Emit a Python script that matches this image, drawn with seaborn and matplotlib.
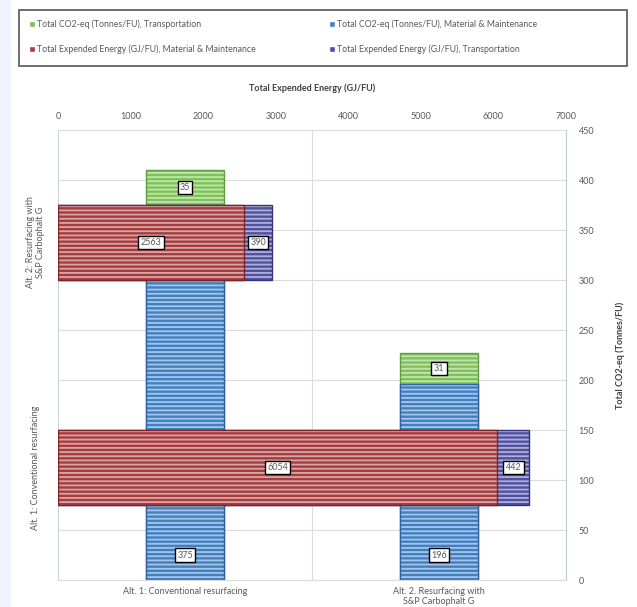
import matplotlib
matplotlib.use("Agg")
import matplotlib.pyplot as plt
from matplotlib.patches import Patch, Rectangle
import seaborn as sns

# --- data -------------------------------------------------------------
co2_categories = ["Alt. 1: Conventional resurfacing",
                  "Alt. 2. Resurfacing with\nS&P Carbophalt G"]
co2_material = [375, 196]        # Tonnes/FU, material & maintenance
co2_transport = [35, 31]         # Tonnes/FU, transportation

energy_categories = ["Alt. 2: Resurfacing with\nS&P Carbophalt G",
                     "Alt. 1: Conventional resurfacing"]
energy_material = [2563, 6054]   # GJ/FU, material & maintenance
energy_transport = [390, 442]    # GJ/FU, transportation

energy_ticks = [0, 1000, 2000, 3000, 4000, 5000, 6000, 7000]
co2_ticks = [0, 50, 100, 150, 200, 250, 300, 350, 400, 450]

# --- style ------------------------------------------------------------
sns.set_style("white")
plt.rcParams["font.family"] = ["Lato", "DejaVu Sans"]
plt.rcParams["hatch.linewidth"] = 1.3

GREEN, GREEN_E = "#7cc256", "#5e9e3e"
BLUE, BLUE_E = "#3f7fc4", "#2f62a0"
RED, RED_E = "#a63c3e", "#7e2427"
PURPLE, PURPLE_E = "#4f4fa3", "#34347a"
TXT = "#595959"
GRID = "#dcdcdc"
HATCH_EC = (1, 1, 1, 0.55)
W, H = 637, 607

fig = plt.figure(figsize=(W / 100, H / 100), dpi=100)
fig.patch.set_facecolor("white")
fig.add_artist(Rectangle((0, 0), 11 / W, 1, transform=fig.transFigure,
                         facecolor="#eef4fb", edgecolor="none", zorder=-5))

pos = [58 / W, 1 - 580 / H, (566 - 58) / W, (580 - 130) / H]
ax_v = fig.add_axes(pos)                     # CO2 columns (bottom / right)
ax_h = fig.add_axes(pos, frameon=False)      # energy bars (top / left)
ax_h.patch.set_alpha(0)

# --- CO2 stacked columns ---------------------------------------------
co2_total = [m + t for m, t in zip(co2_material, co2_transport)]
bw_v = 0.31
sns.barplot(x=co2_categories, y=co2_total, ax=ax_v, color=GREEN, saturation=1,
            width=bw_v, errorbar=None, hatch="----", edgecolor=HATCH_EC, linewidth=0)
sns.barplot(x=co2_categories, y=co2_total, ax=ax_v, color=GREEN_E, fill=False,
            width=bw_v, errorbar=None, linewidth=1)
sns.barplot(x=co2_categories, y=co2_material, ax=ax_v, color=BLUE, saturation=1,
            width=bw_v, errorbar=None, hatch="----", edgecolor=HATCH_EC, linewidth=0)
sns.barplot(x=co2_categories, y=co2_material, ax=ax_v, color=BLUE_E, fill=False,
            width=bw_v, errorbar=None, linewidth=1)

ax_v.set_ylim(0, 450)
ax_v.set_xlim(-0.5, 1.5)
ax_v.set_yticks(co2_ticks)
ax_v.yaxis.tick_right()
ax_v.yaxis.set_label_position("right")
ax_v.set_ylabel("Total CO2-eq (Tonnes/FU)", fontsize=6.5, color="#404040",
                fontweight="bold", labelpad=15)
ax_v.set_xlabel("")
ax_v.tick_params(axis="y", length=0, labelsize=6.5, labelcolor=TXT, pad=9)
ax_v.tick_params(axis="x", length=0, labelsize=6.5, labelcolor=TXT, pad=5)
ax_v.grid(axis="y", color=GRID, linewidth=0.8)
ax_v.axvline(0.5, color=GRID, linewidth=0.8, zorder=0)
ax_v.set_axisbelow(True)
for side in ["top", "left"]:
    ax_v.spines[side].set_visible(False)
ax_v.spines["right"].set_color("#c0c8d0")
ax_v.spines["bottom"].set_color(GRID)
ax_v.spines["bottom"].set_linewidth(0.8)

box = dict(boxstyle="square,pad=0.25", facecolor="white", edgecolor="black", linewidth=1)
for i, (m, t) in enumerate(zip(co2_material, co2_transport)):
    ax_v.text(i, m + t / 2, f"{t}", ha="center", va="center", fontsize=6.5,
              color=TXT, bbox=box, zorder=10)
    ax_v.annotate(f"{m}", xy=(i, 0), xytext=(0, 18), textcoords="offset points",
                  ha="center", va="center", fontsize=6.5, color=TXT, bbox=box, zorder=10)

# --- energy stacked bars ---------------------------------------------
energy_total = [m + t for m, t in zip(energy_material, energy_transport)]
bw_h = 0.333
sns.barplot(x=energy_total, y=energy_categories, orient="h", ax=ax_h, color=PURPLE,
            saturation=1, width=bw_h, errorbar=None, hatch="----",
            edgecolor=HATCH_EC, linewidth=0)
sns.barplot(x=energy_total, y=energy_categories, orient="h", ax=ax_h, color=PURPLE_E,
            fill=False, width=bw_h, errorbar=None, linewidth=1)
sns.barplot(x=energy_material, y=energy_categories, orient="h", ax=ax_h, color=RED,
            saturation=1, width=bw_h, errorbar=None, hatch="----",
            edgecolor=HATCH_EC, linewidth=0)
sns.barplot(x=energy_material, y=energy_categories, orient="h", ax=ax_h, color=RED_E,
            fill=False, width=bw_h, errorbar=None, linewidth=1)

ax_h.set_xlim(0, 7000)
ax_h.set_ylim(1.5, -0.5)
ax_h.set_xticks(energy_ticks)
ax_h.xaxis.tick_top()
ax_h.xaxis.set_label_position("top")
ax_h.set_xlabel("Total Expended Energy (GJ/FU)", fontsize=6.5, color="#404040",
                fontweight="bold", labelpad=15)
ax_h.set_ylabel("")
ax_h.tick_params(axis="x", length=0, labelsize=6.5, labelcolor=TXT, pad=6.5)
ax_h.tick_params(axis="y", length=0, labelsize=6.5, labelcolor=TXT, pad=16)
for lab in ax_h.get_yticklabels():
    lab.set_rotation(90)
    lab.set_va("center")
    lab.set_ha("center")
    lab.set_multialignment("center")
ax_h.axvline(0, color="#c0c8d0", linewidth=1.2, zorder=0)

for i, (m, t) in enumerate(zip(energy_material, energy_transport)):
    ax_h.text(m / 2, i, f"{m}", ha="center", va="center", fontsize=6.5,
              color=TXT, bbox=box, zorder=10)
    ax_h.text(m + t / 2, i, f"{t}", ha="center", va="center", fontsize=6.5,
              color=TXT, bbox=box, zorder=10)

# --- legend: two columns inside one framed box ------------------------
fig.add_artist(Rectangle((19 / W, 1 - 66 / H), 608 / W, 56 / H, transform=fig.transFigure,
                         facecolor="white", edgecolor="#555555", linewidth=1.2, zorder=3))
col1 = [Patch(facecolor=GREEN, label="Total CO2-eq (Tonnes/FU), Transportation"),
        Patch(facecolor=RED, label="Total Expended Energy (GJ/FU), Material & Maintenance")]
col2 = [Patch(facecolor=BLUE, label="Total CO2-eq (Tonnes/FU), Material & Maintenance"),
        Patch(facecolor=PURPLE, label="Total Expended Energy (GJ/FU), Transportation")]
for handles, x0 in [(col1, 22), (col2, 322)]:
    leg = fig.legend(handles=handles, loc="center left",
                     bbox_to_anchor=(x0 / W, 1 - 37 / H), fontsize=6.3, frameon=False,
                     handlelength=0.7, handleheight=0.7, handletextpad=0.25,
                     borderpad=0.3, labelspacing=1.8)
    leg.set_zorder(4)
    for t in leg.get_texts():
        t.set_color(TXT)

fig.savefig("out.png", dpi=100, facecolor=fig.get_facecolor())
